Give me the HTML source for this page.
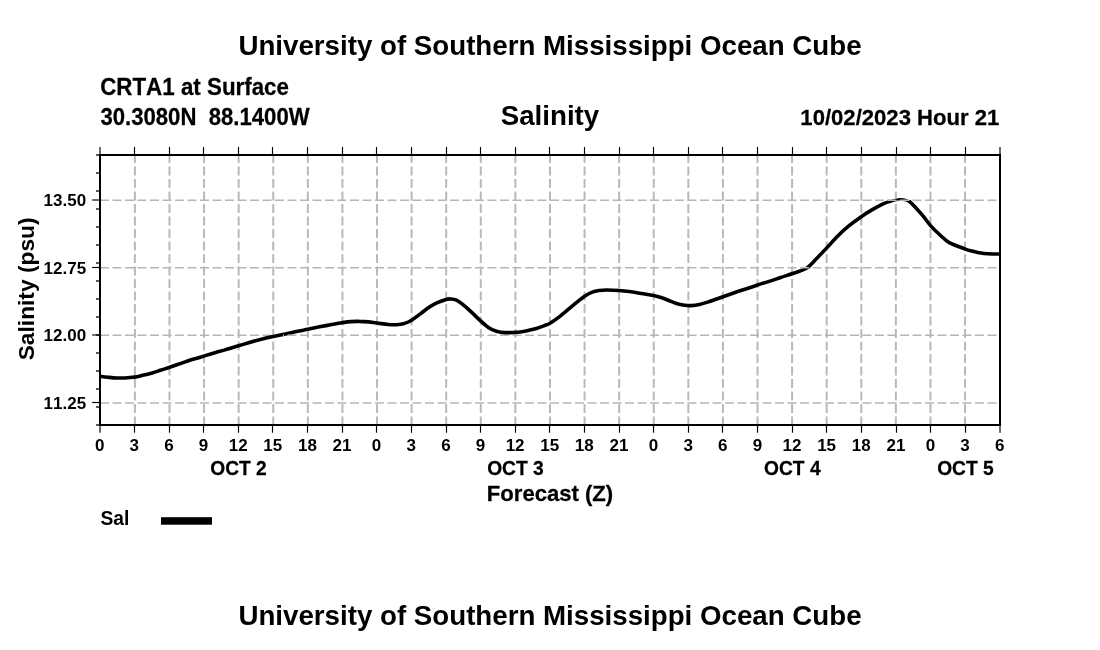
<!DOCTYPE html>
<html lang="en">
<head>
<meta charset="utf-8">
<title>University of Southern Mississippi Ocean Cube - Salinity</title>
<style>
html,body{margin:0;padding:0;background:#fff;}
body{width:1100px;height:650px;overflow:hidden;}
svg{display:block;will-change:transform;}
svg text{font-family:"Liberation Sans",sans-serif;font-weight:bold;fill:#000;font-kerning:none;}
</style>
</head>
<body>
<svg width="1100" height="650" viewBox="0 0 1100 650">
<rect x="0" y="0" width="1100" height="650" fill="#fff"/>
<g fill="none" stroke="#b9b9b9" stroke-width="2" stroke-dasharray="9 3.5"><path d="M134.89 425.4V155.0"/><path d="M169.48 425.4V155.0"/><path d="M204.07 425.4V155.0"/><path d="M238.66 425.4V155.0"/><path d="M273.25 425.4V155.0"/><path d="M307.84 425.4V155.0"/><path d="M342.43 425.4V155.0"/><path d="M377.02 425.4V155.0"/><path d="M411.61 425.4V155.0"/><path d="M446.20 425.4V155.0"/><path d="M480.79 425.4V155.0"/><path d="M515.38 425.4V155.0"/><path d="M549.97 425.4V155.0"/><path d="M584.56 425.4V155.0"/><path d="M619.15 425.4V155.0"/><path d="M653.74 425.4V155.0"/><path d="M688.33 425.4V155.0"/><path d="M722.92 425.4V155.0"/><path d="M757.51 425.4V155.0"/><path d="M792.10 425.4V155.0"/><path d="M826.69 425.4V155.0"/><path d="M861.28 425.4V155.0"/><path d="M895.87 425.4V155.0"/><path d="M930.46 425.4V155.0"/><path d="M965.05 425.4V155.0"/></g>
<g fill="none" stroke="#b6b6b6" stroke-width="1.6" stroke-dasharray="9 3.5"><path d="M100.0 403.00H1000.0"/><path d="M100.0 335.20H1000.0"/><path d="M100.0 267.80H1000.0"/><path d="M100.0 200.20H1000.0"/></g>
<defs><clipPath id="cmain"><path d="M95 150H1005V430H95Z M887.5 190H910V200.6H887.5Z" clip-rule="evenodd"/></clipPath><clipPath id="cpeak"><rect x="887.5" y="190" width="22.5" height="10.6"/></clipPath><clipPath id="cover"><rect x="283" y="333" width="8" height="4"/><rect x="800.5" y="266" width="8.5" height="3.2"/><rect x="886" y="198" width="24.5" height="4"/></clipPath></defs>
<path d="M100.0 376.2C101.4 376.4 105.8 377.0 108.6 377.3C111.4 377.6 114.1 377.9 116.8 378.0C119.5 378.1 122.0 378.1 125.0 378.0C128.0 377.9 131.6 377.6 134.5 377.1C137.4 376.7 139.7 376.0 142.7 375.3C145.7 374.6 149.3 373.7 152.3 372.9C155.3 372.1 157.7 371.2 160.5 370.3C163.3 369.4 166.3 368.4 169.0 367.5C171.7 366.6 173.7 365.9 176.8 364.8C179.9 363.7 184.5 362.1 187.7 361.0C190.9 359.9 193.2 359.3 195.9 358.5C198.6 357.7 200.5 357.1 203.7 356.1C206.9 355.1 211.3 353.8 215.0 352.7C218.7 351.6 222.0 350.8 225.9 349.6C229.8 348.5 234.7 347.0 238.5 345.8C242.3 344.6 244.6 343.9 248.6 342.7C252.6 341.5 258.2 339.9 262.3 338.9C266.4 337.8 269.3 337.2 273.2 336.4C277.1 335.6 281.6 334.7 285.5 333.9C289.4 333.1 292.7 332.4 296.4 331.6C300.1 330.8 303.8 330.1 307.7 329.3C311.6 328.5 315.7 327.6 319.5 326.8C323.3 326.1 326.8 325.5 330.5 324.8C334.2 324.1 338.6 323.2 342.0 322.7C345.4 322.2 348.0 321.8 350.9 321.6C353.8 321.4 356.2 321.3 359.1 321.4C362.1 321.4 365.7 321.6 368.6 321.9C371.6 322.2 373.5 322.6 376.8 323.0C380.1 323.4 384.9 324.2 388.2 324.5C391.5 324.8 393.7 324.9 396.4 324.7C399.1 324.5 402.0 324.1 404.5 323.4C407.0 322.6 408.9 321.9 411.6 320.2C414.3 318.5 418.0 315.5 420.9 313.4C423.8 311.2 426.4 309.1 429.1 307.3C431.8 305.5 434.5 304.0 437.3 302.7C440.1 301.4 444.0 300.0 446.1 299.4C448.2 298.8 448.5 298.8 450.2 298.9C451.9 299.0 454.0 299.0 456.4 300.2C458.8 301.4 461.8 303.7 464.5 305.9C467.2 308.1 470.0 310.9 472.7 313.4C475.4 315.9 477.9 318.5 480.6 320.9C483.3 323.3 486.3 326.2 489.1 328.0C491.9 329.8 494.6 330.7 497.3 331.5C500.0 332.3 502.6 332.5 505.5 332.6C508.4 332.8 512.6 332.5 515.0 332.4C517.4 332.3 517.8 332.3 520.0 332.0C522.2 331.7 525.5 331.0 528.2 330.4C530.9 329.8 533.7 329.2 536.4 328.4C539.1 327.6 542.2 326.5 544.5 325.6C546.8 324.7 547.7 324.5 550.0 323.2C552.3 321.9 555.5 319.8 558.2 317.7C560.9 315.6 563.7 313.2 566.4 310.9C569.1 308.6 571.5 306.6 574.5 304.1C577.5 301.7 581.6 298.2 584.6 296.2C587.6 294.2 589.9 293.1 592.3 292.1C594.7 291.2 596.6 290.9 599.1 290.5C601.6 290.1 604.0 290.0 607.3 290.0C610.6 290.0 615.5 290.2 619.1 290.5C622.7 290.8 625.6 291.1 629.1 291.5C632.6 291.9 635.9 292.5 640.0 293.2C644.1 293.9 650.1 294.9 653.6 295.6C657.1 296.3 658.6 296.7 661.0 297.5C663.4 298.3 665.6 299.2 668.2 300.2C670.8 301.2 673.7 302.6 676.4 303.4C679.1 304.2 682.0 304.8 684.5 305.2C687.0 305.6 688.9 305.7 691.4 305.6C693.9 305.5 696.8 305.1 699.5 304.5C702.2 303.9 705.2 302.9 707.7 302.1C710.2 301.3 712.0 300.7 714.5 299.8C717.0 298.9 719.6 298.0 723.0 296.8C726.4 295.6 731.0 293.9 735.0 292.5C739.0 291.1 743.5 289.8 747.3 288.5C751.0 287.2 753.9 286.2 757.5 285.0C761.1 283.8 765.4 282.6 769.1 281.4C772.9 280.2 776.2 279.0 780.0 277.7C783.8 276.4 788.7 274.9 792.0 273.8C795.3 272.7 797.4 272.0 800.0 271.0C802.6 270.0 804.8 269.6 807.5 267.6C810.2 265.6 813.1 262.1 816.3 258.8C819.5 255.5 823.4 251.6 826.8 247.9C830.2 244.2 833.2 240.5 836.8 236.9C840.4 233.3 844.4 229.6 848.5 226.2C852.6 222.8 857.7 219.1 861.6 216.4C865.5 213.7 868.5 211.9 871.9 209.9C875.3 207.9 879.2 205.8 882.1 204.4C885.0 203.0 887.1 202.3 889.4 201.5C891.7 200.7 894.2 200.0 896.0 199.6C897.8 199.2 898.8 199.0 900.4 199.0C902.0 199.0 903.9 199.1 905.5 199.6C907.1 200.1 908.2 200.5 909.9 201.8C911.6 203.2 913.5 205.3 915.7 207.7C917.9 210.0 920.5 212.9 923.0 215.9C925.5 218.9 928.0 222.7 930.8 225.9C933.6 229.1 936.9 232.2 940.0 235.0C943.1 237.8 945.0 240.2 949.2 242.6C953.4 244.9 961.6 247.7 965.4 249.1C969.2 250.5 969.8 250.5 972.0 251.1C974.2 251.7 975.9 252.2 978.5 252.7C981.1 253.1 984.1 253.6 987.7 253.8C991.3 254.0 998.0 254.0 1000.0 254.0" fill="none" stroke="#000" stroke-width="3.6" stroke-linejoin="round" stroke-linecap="butt" clip-path="url(#cmain)"/>
<path d="M100.0 376.2C101.4 376.4 105.8 377.0 108.6 377.3C111.4 377.6 114.1 377.9 116.8 378.0C119.5 378.1 122.0 378.1 125.0 378.0C128.0 377.9 131.6 377.6 134.5 377.1C137.4 376.7 139.7 376.0 142.7 375.3C145.7 374.6 149.3 373.7 152.3 372.9C155.3 372.1 157.7 371.2 160.5 370.3C163.3 369.4 166.3 368.4 169.0 367.5C171.7 366.6 173.7 365.9 176.8 364.8C179.9 363.7 184.5 362.1 187.7 361.0C190.9 359.9 193.2 359.3 195.9 358.5C198.6 357.7 200.5 357.1 203.7 356.1C206.9 355.1 211.3 353.8 215.0 352.7C218.7 351.6 222.0 350.8 225.9 349.6C229.8 348.5 234.7 347.0 238.5 345.8C242.3 344.6 244.6 343.9 248.6 342.7C252.6 341.5 258.2 339.9 262.3 338.9C266.4 337.8 269.3 337.2 273.2 336.4C277.1 335.6 281.6 334.7 285.5 333.9C289.4 333.1 292.7 332.4 296.4 331.6C300.1 330.8 303.8 330.1 307.7 329.3C311.6 328.5 315.7 327.6 319.5 326.8C323.3 326.1 326.8 325.5 330.5 324.8C334.2 324.1 338.6 323.2 342.0 322.7C345.4 322.2 348.0 321.8 350.9 321.6C353.8 321.4 356.2 321.3 359.1 321.4C362.1 321.4 365.7 321.6 368.6 321.9C371.6 322.2 373.5 322.6 376.8 323.0C380.1 323.4 384.9 324.2 388.2 324.5C391.5 324.8 393.7 324.9 396.4 324.7C399.1 324.5 402.0 324.1 404.5 323.4C407.0 322.6 408.9 321.9 411.6 320.2C414.3 318.5 418.0 315.5 420.9 313.4C423.8 311.2 426.4 309.1 429.1 307.3C431.8 305.5 434.5 304.0 437.3 302.7C440.1 301.4 444.0 300.0 446.1 299.4C448.2 298.8 448.5 298.8 450.2 298.9C451.9 299.0 454.0 299.0 456.4 300.2C458.8 301.4 461.8 303.7 464.5 305.9C467.2 308.1 470.0 310.9 472.7 313.4C475.4 315.9 477.9 318.5 480.6 320.9C483.3 323.3 486.3 326.2 489.1 328.0C491.9 329.8 494.6 330.7 497.3 331.5C500.0 332.3 502.6 332.5 505.5 332.6C508.4 332.8 512.6 332.5 515.0 332.4C517.4 332.3 517.8 332.3 520.0 332.0C522.2 331.7 525.5 331.0 528.2 330.4C530.9 329.8 533.7 329.2 536.4 328.4C539.1 327.6 542.2 326.5 544.5 325.6C546.8 324.7 547.7 324.5 550.0 323.2C552.3 321.9 555.5 319.8 558.2 317.7C560.9 315.6 563.7 313.2 566.4 310.9C569.1 308.6 571.5 306.6 574.5 304.1C577.5 301.7 581.6 298.2 584.6 296.2C587.6 294.2 589.9 293.1 592.3 292.1C594.7 291.2 596.6 290.9 599.1 290.5C601.6 290.1 604.0 290.0 607.3 290.0C610.6 290.0 615.5 290.2 619.1 290.5C622.7 290.8 625.6 291.1 629.1 291.5C632.6 291.9 635.9 292.5 640.0 293.2C644.1 293.9 650.1 294.9 653.6 295.6C657.1 296.3 658.6 296.7 661.0 297.5C663.4 298.3 665.6 299.2 668.2 300.2C670.8 301.2 673.7 302.6 676.4 303.4C679.1 304.2 682.0 304.8 684.5 305.2C687.0 305.6 688.9 305.7 691.4 305.6C693.9 305.5 696.8 305.1 699.5 304.5C702.2 303.9 705.2 302.9 707.7 302.1C710.2 301.3 712.0 300.7 714.5 299.8C717.0 298.9 719.6 298.0 723.0 296.8C726.4 295.6 731.0 293.9 735.0 292.5C739.0 291.1 743.5 289.8 747.3 288.5C751.0 287.2 753.9 286.2 757.5 285.0C761.1 283.8 765.4 282.6 769.1 281.4C772.9 280.2 776.2 279.0 780.0 277.7C783.8 276.4 788.7 274.9 792.0 273.8C795.3 272.7 797.4 272.0 800.0 271.0C802.6 270.0 804.8 269.6 807.5 267.6C810.2 265.6 813.1 262.1 816.3 258.8C819.5 255.5 823.4 251.6 826.8 247.9C830.2 244.2 833.2 240.5 836.8 236.9C840.4 233.3 844.4 229.6 848.5 226.2C852.6 222.8 857.7 219.1 861.6 216.4C865.5 213.7 868.5 211.9 871.9 209.9C875.3 207.9 879.2 205.8 882.1 204.4C885.0 203.0 887.1 202.3 889.4 201.5C891.7 200.7 894.2 200.0 896.0 199.6C897.8 199.2 898.8 199.0 900.4 199.0C902.0 199.0 903.9 199.1 905.5 199.6C907.1 200.1 908.2 200.5 909.9 201.8C911.6 203.2 913.5 205.3 915.7 207.7C917.9 210.0 920.5 212.9 923.0 215.9C925.5 218.9 928.0 222.7 930.8 225.9C933.6 229.1 936.9 232.2 940.0 235.0C943.1 237.8 945.0 240.2 949.2 242.6C953.4 244.9 961.6 247.7 965.4 249.1C969.2 250.5 969.8 250.5 972.0 251.1C974.2 251.7 975.9 252.2 978.5 252.7C981.1 253.1 984.1 253.6 987.7 253.8C991.3 254.0 998.0 254.0 1000.0 254.0" fill="none" stroke="#000" stroke-width="1.9" stroke-linejoin="round" clip-path="url(#cpeak)"/>
<g fill="none" stroke="#b6b6b6" stroke-width="1.6" stroke-dasharray="9 3.5" clip-path="url(#cover)"><path d="M100.0 403.00H1000.0"/><path d="M100.0 335.20H1000.0"/><path d="M100.0 267.80H1000.0"/><path d="M100.0 200.20H1000.0"/></g>
<g fill="none" stroke="#000" stroke-width="2">
<path d="M99.0 425.0H1001.0"/>
<path d="M99.0 155.0H1001.0"/>
<path d="M100.0 155.0V425.0"/>
<path d="M1000.0 155.0V425.0"/>
</g>
<g fill="none" stroke="#000" stroke-width="1.15"><path d="M100.00 425.0V432.7"/><path d="M100.00 155.0V147.0"/><path d="M134.50 425.0V432.7"/><path d="M134.50 155.0V147.0"/><path d="M169.50 425.0V432.7"/><path d="M169.50 155.0V147.0"/><path d="M203.50 425.0V432.7"/><path d="M203.50 155.0V147.0"/><path d="M238.50 425.0V432.7"/><path d="M238.50 155.0V147.0"/><path d="M272.50 425.0V432.7"/><path d="M272.50 155.0V147.0"/><path d="M307.50 425.0V432.7"/><path d="M307.50 155.0V147.0"/><path d="M342.50 425.0V432.7"/><path d="M342.50 155.0V147.0"/><path d="M376.50 425.0V432.7"/><path d="M376.50 155.0V147.0"/><path d="M411.50 425.0V432.7"/><path d="M411.50 155.0V147.0"/><path d="M446.50 425.0V432.7"/><path d="M446.50 155.0V147.0"/><path d="M480.50 425.0V432.7"/><path d="M480.50 155.0V147.0"/><path d="M515.50 425.0V432.7"/><path d="M515.50 155.0V147.0"/><path d="M549.50 425.0V432.7"/><path d="M549.50 155.0V147.0"/><path d="M584.50 425.0V432.7"/><path d="M584.50 155.0V147.0"/><path d="M619.50 425.0V432.7"/><path d="M619.50 155.0V147.0"/><path d="M653.50 425.0V432.7"/><path d="M653.50 155.0V147.0"/><path d="M688.50 425.0V432.7"/><path d="M688.50 155.0V147.0"/><path d="M722.50 425.0V432.7"/><path d="M722.50 155.0V147.0"/><path d="M757.50 425.0V432.7"/><path d="M757.50 155.0V147.0"/><path d="M792.50 425.0V432.7"/><path d="M792.50 155.0V147.0"/><path d="M826.50 425.0V432.7"/><path d="M826.50 155.0V147.0"/><path d="M861.50 425.0V432.7"/><path d="M861.50 155.0V147.0"/><path d="M896.50 425.0V432.7"/><path d="M896.50 155.0V147.0"/><path d="M930.50 425.0V432.7"/><path d="M930.50 155.0V147.0"/><path d="M965.50 425.0V432.7"/><path d="M965.50 155.0V147.0"/><path d="M1000.00 425.0V432.7"/><path d="M1000.00 155.0V147.0"/><path d="M100.0 402.50H92.2"/><path d="M100.0 335.00H92.2"/><path d="M100.0 267.50H92.2"/><path d="M100.0 200.00H92.2"/></g>
<g fill="none" stroke="#000" stroke-width="1.3"><path d="M100.0 425.00H96.0"/><path d="M100.0 407.00H96.0"/><path d="M100.0 389.00H96.0"/><path d="M100.0 371.00H96.0"/><path d="M100.0 353.00H96.0"/><path d="M100.0 335.00H96.0"/><path d="M100.0 317.00H96.0"/><path d="M100.0 299.00H96.0"/><path d="M100.0 281.00H96.0"/><path d="M100.0 263.00H96.0"/><path d="M100.0 245.00H96.0"/><path d="M100.0 227.00H96.0"/><path d="M100.0 209.00H96.0"/><path d="M100.0 191.00H96.0"/><path d="M100.0 173.00H96.0"/><path d="M100.0 155.00H96.0"/></g>
<text x="550.0" y="54.7" font-size="27.7" text-anchor="middle">University of Southern Mississippi Ocean Cube</text>
<text transform="translate(100.2 94.8) scale(1 1.055)" font-size="22.35" text-anchor="start" stroke="#000" stroke-width="0.25" stroke-linejoin="round">CRTA1 at Surface</text>
<text transform="translate(100.4 125.4) scale(1 1.06)" font-size="22.15" text-anchor="start" stroke="#000" stroke-width="0.25" stroke-linejoin="round" xml:space="preserve">30.3080N  88.1400W</text>
<text x="550.0" y="125.0" font-size="27.7" text-anchor="middle">Salinity</text>
<text transform="translate(999.3 125.0) scale(1 1.03)" font-size="22.1" text-anchor="end" stroke="#000" stroke-width="0.25" stroke-linejoin="round">10/02/2023 Hour 21</text>
<text transform="translate(33.7 288.9) rotate(-90)" font-size="22.75" text-anchor="middle">Salinity (psu)</text>
<text x="86.1" y="206.1" font-size="17.0" text-anchor="end">13.50</text>
<text x="86.1" y="273.6" font-size="17.0" text-anchor="end">12.75</text>
<text x="86.1" y="341.1" font-size="17.0" text-anchor="end">12.00</text>
<text x="86.1" y="408.6" font-size="17.0" text-anchor="end">11.25</text>
<text x="99.7" y="451.0" font-size="17.0" text-anchor="middle">0</text>
<text x="134.3" y="451.0" font-size="17.0" text-anchor="middle">3</text>
<text x="168.9" y="451.0" font-size="17.0" text-anchor="middle">6</text>
<text x="203.5" y="451.0" font-size="17.0" text-anchor="middle">9</text>
<text x="238.2" y="451.0" font-size="17.0" text-anchor="middle">12</text>
<text x="272.8" y="451.0" font-size="17.0" text-anchor="middle">15</text>
<text x="307.4" y="451.0" font-size="17.0" text-anchor="middle">18</text>
<text x="342.0" y="451.0" font-size="17.0" text-anchor="middle">21</text>
<text x="376.6" y="451.0" font-size="17.0" text-anchor="middle">0</text>
<text x="411.2" y="451.0" font-size="17.0" text-anchor="middle">3</text>
<text x="445.9" y="451.0" font-size="17.0" text-anchor="middle">6</text>
<text x="480.5" y="451.0" font-size="17.0" text-anchor="middle">9</text>
<text x="515.1" y="451.0" font-size="17.0" text-anchor="middle">12</text>
<text x="549.7" y="451.0" font-size="17.0" text-anchor="middle">15</text>
<text x="584.3" y="451.0" font-size="17.0" text-anchor="middle">18</text>
<text x="618.9" y="451.0" font-size="17.0" text-anchor="middle">21</text>
<text x="653.5" y="451.0" font-size="17.0" text-anchor="middle">0</text>
<text x="688.2" y="451.0" font-size="17.0" text-anchor="middle">3</text>
<text x="722.8" y="451.0" font-size="17.0" text-anchor="middle">6</text>
<text x="757.4" y="451.0" font-size="17.0" text-anchor="middle">9</text>
<text x="792.0" y="451.0" font-size="17.0" text-anchor="middle">12</text>
<text x="826.6" y="451.0" font-size="17.0" text-anchor="middle">15</text>
<text x="861.2" y="451.0" font-size="17.0" text-anchor="middle">18</text>
<text x="895.9" y="451.0" font-size="17.0" text-anchor="middle">21</text>
<text x="930.5" y="451.0" font-size="17.0" text-anchor="middle">0</text>
<text x="965.1" y="451.0" font-size="17.0" text-anchor="middle">3</text>
<text x="999.7" y="451.0" font-size="17.0" text-anchor="middle">6</text>
<text transform="translate(238.5 474.9) scale(1 1.08)" font-size="19.2" text-anchor="middle" stroke="#000" stroke-width="0.25" stroke-linejoin="round">OCT 2</text>
<text transform="translate(515.4 474.9) scale(1 1.08)" font-size="19.2" text-anchor="middle" stroke="#000" stroke-width="0.25" stroke-linejoin="round">OCT 3</text>
<text transform="translate(792.3 474.9) scale(1 1.08)" font-size="19.2" text-anchor="middle" stroke="#000" stroke-width="0.25" stroke-linejoin="round">OCT 4</text>
<text transform="translate(965.4 474.9) scale(1 1.08)" font-size="19.2" text-anchor="middle" stroke="#000" stroke-width="0.25" stroke-linejoin="round">OCT 5</text>
<text transform="translate(550.0 500.6) scale(1 1.04)" font-size="22.1" text-anchor="middle" stroke="#000" stroke-width="0.25" stroke-linejoin="round">Forecast (Z)</text>
<text x="100.4" y="524.9" font-size="19.3" text-anchor="start">Sal</text>
<rect x="161" y="517.2" width="51" height="7.5" fill="#000"/>
<text x="550.0" y="624.7" font-size="27.7" text-anchor="middle">University of Southern Mississippi Ocean Cube</text>
</svg>
</body>
</html>
